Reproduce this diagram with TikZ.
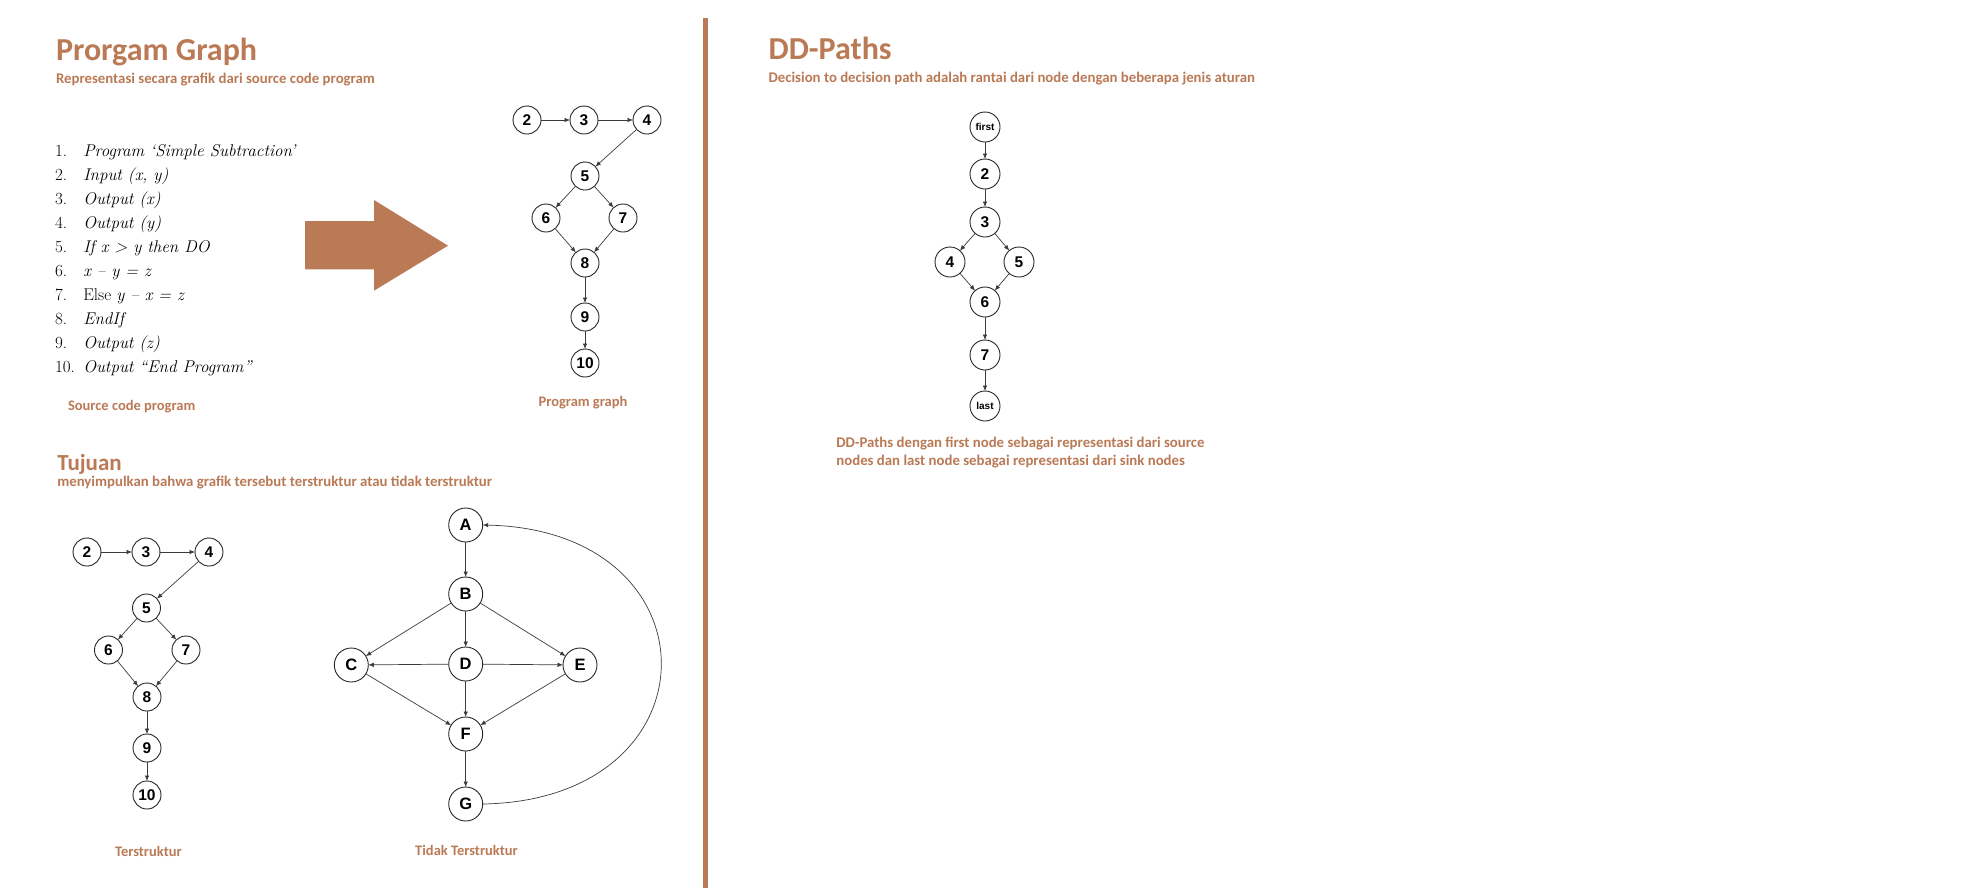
\documentclass[tikz,border=0pt]{standalone}
\usepackage{fontspec}
\usetikzlibrary{arrows.meta}
\newfontfamily\calfont{Carlito}
\newfontfamily\arialfont{Liberation Sans}
\definecolor{brn}{RGB}{186,122,86}
\definecolor{edgegray}{RGB}{60,60,60}
\begin{document}
\begin{tikzpicture}[x=1pt,y=-1pt,
  every node/.style={inner sep=0pt, outer sep=0pt},
  ttl/.style={anchor=base west, text=brn, font=\calfont\bfseries\fontsize{32}{32}\selectfont},
  ttlsmall/.style={anchor=base west, text=brn, font=\calfont\bfseries\fontsize{23}{23}\selectfont},
  subt/.style={anchor=base west, text=brn, font=\calfont\bfseries\fontsize{14.8}{17.7}\selectfont},
  lbl/.style={anchor=base, text=brn, font=\calfont\bfseries\fontsize{14.5}{17}\selectfont},
  codenum/.style={anchor=base west, font=\fontsize{17}{17}\selectfont},
  codetxt/.style={anchor=base west, font=\itshape\fontsize{17}{17}\selectfont},
  vtx/.style={circle, draw=black!85, line width=0.9pt, fill=white, minimum size=28pt,
    font=\arialfont\bfseries\fontsize{15.5}{15.5}\selectfont},
  bigvtx/.style={vtx, minimum size=34pt, font=\arialfont\bfseries\fontsize{16.5}{16.5}\selectfont},
  ddvtx/.style={vtx, minimum size=30pt},
  smallvtx/.style={vtx, minimum size=30pt, font=\arialfont\bfseries\fontsize{10}{10}\selectfont},
  arr/.style={draw=edgegray, line width=0.7pt, -{Latex[length=5.5pt,width=4.5pt]}},
]
\useasboundingbox (0,0) rectangle (1964,892);
\fill[white] (0,0) rectangle (1964,892);

% ---------- divider ----------
\fill[brn] (703,18) rectangle (708,888);

% ---------- Prorgam Graph ----------
\node[ttl] (t1) at (56,60.7) {Prorgam Graph};
\node[subt] (s1) at (56,83.3) {Representasi secara grafik dari source code program};

\node[codenum] (n1) at (55,156) {1.};  \node[codetxt] (c1) at (83.3,156) {Program ‘Simple Subtraction’};
\node[codenum] (n2) at (55,180) {2.};  \node[codetxt] (c2) at (83.3,180) {Input (x, y)};
\node[codenum] (n3) at (55,204) {3.};  \node[codetxt] (c3) at (83.3,204) {Output (x)};
\node[codenum] (n4) at (55,228) {4.};  \node[codetxt] (c4) at (83.3,228) {Output (y)};
\node[codenum] (n5) at (55,252) {5.};  \node[codetxt] (c5) at (83.3,252) {If x > y then DO};
\node[codenum] (n6) at (55,276) {6.};  \node[codetxt] (c6) at (83.3,276) {x -- y = z};
\node[codenum] (n7) at (55,300) {7.};  \node[codetxt] (c7) at (83.3,300) {\upshape Else \itshape y -- x = z};
\node[codenum] (n8) at (55,324) {8.};  \node[codetxt] (c8) at (83.3,324) {EndIf};
\node[codenum] (n9) at (55,348) {9.};  \node[codetxt] (c9) at (83.3,348) {Output (z)};
\node[codenum] (n10) at (55,372) {10.}; \node[codetxt] (c10) at (83.3,372) {Output “End Program”};

\node[lbl, anchor=base west] (l1) at (68,410) {Source code program};

\fill[brn] (305,221) -- (374,221) -- (374,200) -- (448,245.7) -- (374,290.7) -- (374,269.3) -- (305,269.3) -- cycle;

\node[vtx] (p2) at (527,120) {2};
\node[vtx] (p3) at (584,120) {3};
\node[vtx] (p4) at (647,120) {4};
\node[vtx] (p5) at (585,176) {5};
\node[vtx] (p6) at (546,218) {6};
\node[vtx] (p7) at (623,218) {7};
\node[vtx] (p8) at (585,263) {8};
\node[vtx] (p9) at (585,317) {9};
\node[vtx] (p10) at (585,363) {10};
\draw[arr] (p2) -- (p3);
\draw[arr] (p3) -- (p4);
\draw[arr] (p4) -- (p5);
\draw[arr] (p5) -- (p6);
\draw[arr] (p5) -- (p7);
\draw[arr] (p6) -- (p8);
\draw[arr] (p7) -- (p8);
\draw[arr] (p8) -- (p9);
\draw[arr] (p9) -- (p10);
\node[lbl] (l2) at (583,406) {Program graph};

% ---------- Tujuan ----------
\node[ttlsmall] (t2) at (57.3,470) {Tujuan};
\node[subt] (s2) at (57.3,486.7) {menyimpulkan bahwa grafik tersebut terstruktur atau tidak terstruktur};

\node[vtx] (q2) at (87,552) {2};
\node[vtx] (q3) at (146,552) {3};
\node[vtx] (q4) at (209,552) {4};
\node[vtx] (q5) at (146.5,608) {5};
\node[vtx] (q6) at (108.5,650) {6};
\node[vtx] (q7) at (186,650) {7};
\node[vtx] (q8) at (147,697) {8};
\node[vtx] (q9) at (147,748) {9};
\node[vtx] (q10) at (147,795) {10};
\draw[arr] (q2) -- (q3);
\draw[arr] (q3) -- (q4);
\draw[arr] (q4) -- (q5);
\draw[arr] (q5) -- (q6);
\draw[arr] (q5) -- (q7);
\draw[arr] (q6) -- (q8);
\draw[arr] (q7) -- (q8);
\draw[arr] (q8) -- (q9);
\draw[arr] (q9) -- (q10);
\node[lbl] (l3) at (148.4,856.7) {Terstruktur};

\node[bigvtx] (A) at (465.7,525) {A};
\node[bigvtx] (B) at (465.7,594) {B};
\node[bigvtx] (C) at (351.3,665) {C};
\node[bigvtx] (D) at (465.7,664) {D};
\node[bigvtx] (E) at (580,665) {E};
\node[bigvtx] (F) at (465.7,734) {F};
\node[bigvtx] (G) at (465.7,804) {G};
\draw[arr] (A) -- (B);
\draw[arr] (B) -- (C);
\draw[arr] (B) -- (D);
\draw[arr] (B) -- (E);
\draw[arr] (D) -- (C);
\draw[arr] (D) -- (E);
\draw[arr] (D) -- (F);
\draw[arr] (C) -- (F);
\draw[arr] (E) -- (F);
\draw[arr] (F) -- (G);
\draw[arr] (G.east) .. controls (720,800) and (720,530) .. (A.east);
\node[lbl] (l4) at (466.5,855) {Tidak Terstruktur};

% ---------- DD-Paths ----------
\node[ttl] (t3) at (768.6,59) {DD-Paths};
\node[subt] (s3) at (768.6,82.7) {Decision to decision path adalah rantai dari node dengan beberapa jenis aturan};

\node[smallvtx] (first) at (985,127) {first};
\node[ddvtx] (d2) at (985,174) {2};
\node[ddvtx] (d3) at (985,222) {3};
\node[ddvtx] (d4) at (950,262) {4};
\node[ddvtx] (d5) at (1019,262) {5};
\node[ddvtx] (d6) at (985,302) {6};
\node[ddvtx] (d7) at (985,355) {7};
\node[smallvtx] (last) at (985,406) {last};
\draw[arr] (first) -- (d2);
\draw[arr] (d2) -- (d3);
\draw[arr] (d3) -- (d4);
\draw[arr] (d3) -- (d5);
\draw[arr] (d4) -- (d6);
\draw[arr] (d5) -- (d6);
\draw[arr] (d6) -- (d7);
\draw[arr] (d7) -- (last);

\node[subt] (s4) at (836.4,447.3) {DD-Paths dengan first node sebagai representasi dari source};
\node[subt] (s5) at (836.4,465) {nodes dan last node sebagai representasi dari sink nodes};
\end{tikzpicture}
\end{document}
